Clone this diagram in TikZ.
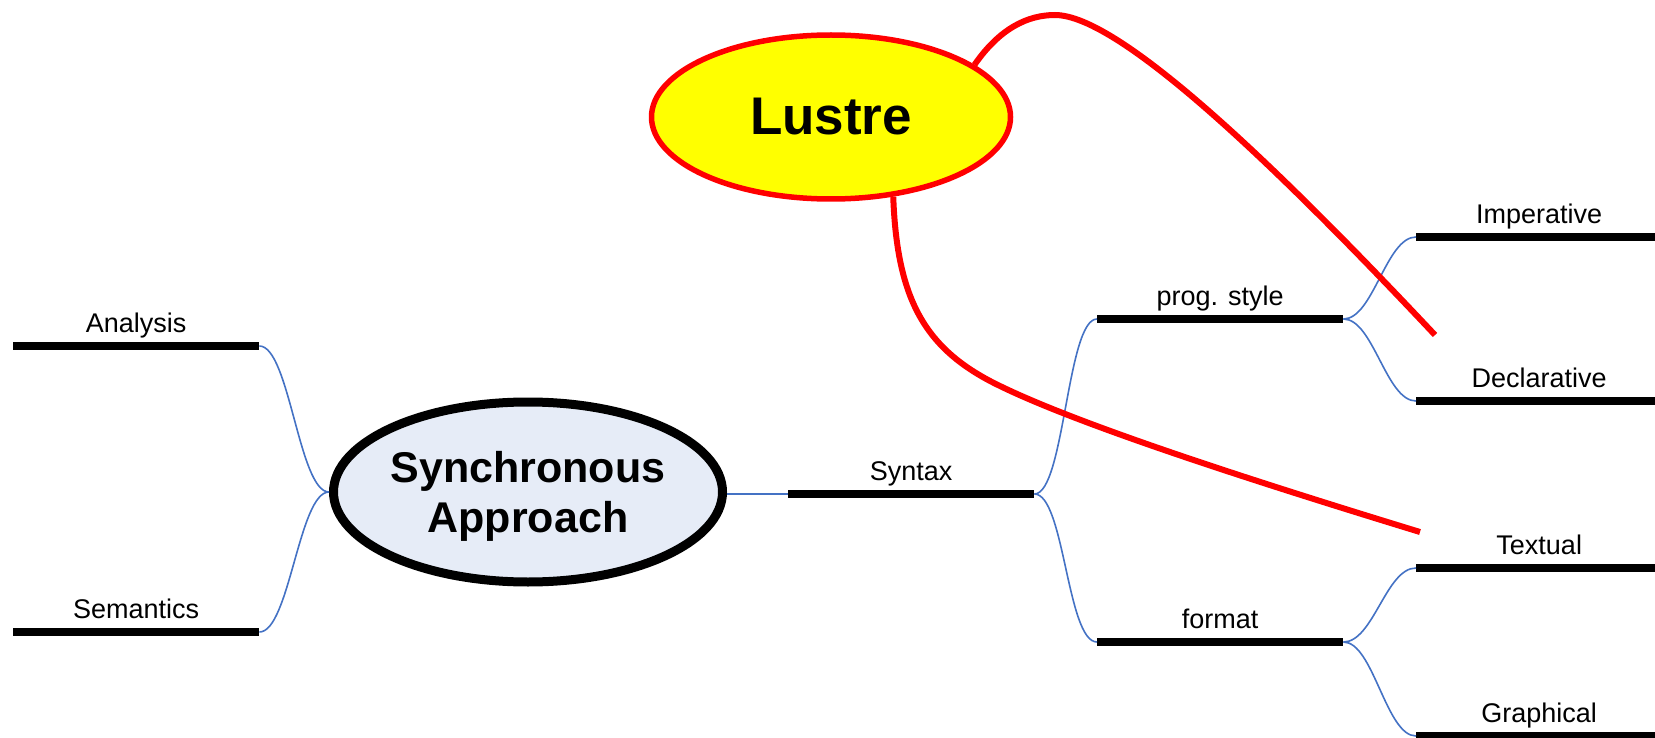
\documentclass[tikz,border=0pt]{standalone}
\usepackage{fontspec}
\setmainfont{Liberation Sans}
\usetikzlibrary{shapes.geometric}
\definecolor{linkblue}{HTML}{4472C4}
\definecolor{syncfill}{HTML}{E6ECF7}
\definecolor{lustrefill}{HTML}{FFFF00}
\definecolor{penred}{HTML}{FF0000}
\begin{document}
\begin{tikzpicture}[x=1pt,y=-1pt,
  topic/.style={rectangle, anchor=south west, minimum width=246pt,
    inner xsep=0pt, inner ysep=7pt, text height=20pt, text depth=6pt,
    font=\fontsize{27}{32}\selectfont},
  bar/.style={draw=black, line width=8pt},
  linkline/.style={draw=linkblue, line width=1.6pt},
  link/.style={linkline,
    to path={.. controls +(30pt,0) and +(-30pt,0) .. (\tikztotarget)}},
  ink/.style={draw=penred, line width=6pt},
]
\useasboundingbox (0,0) rectangle (1655,738);

% central topic and the highlighted one
\node[ellipse, draw=black, line width=9pt, fill=syncfill,
      minimum width=389pt, minimum height=180pt, inner xsep=-2pt, inner ysep=0pt,
      align=center, text depth=0pt,
      font=\bfseries\fontsize{43}{50}\selectfont] (sync) at (528,492) {Synchronous\\Approach};
\node[ellipse, draw=penred, line width=5.5pt, fill=lustrefill,
      minimum width=359pt, minimum height=164pt, inner sep=0pt,
      font=\bfseries\fontsize{53}{60}\selectfont] (lustre) at (831,117) {Lustre};

% branch topics (label over a thick bar)
\node[topic] (an) at (13,346)   {Analysis};
\node[topic] (se) at (13,632)   {Semantics};
\node[topic] (sy) at (788,494)  {Syntax};
\node[topic] (ps) at (1097,319) {prog. style};
\node[topic] (fo) at (1097,642) {format};
\node[topic] (im) at (1416,237) {Imperative};
\node[topic] (de) at (1416,401) {Declarative};
\node[topic] (tx) at (1416,568) {Textual};
\node[topic] (gr) at (1416,736) {Graphical};

\foreach \n in {an,se,sy,ps,fo,im,de,tx,gr}
  \draw[bar] (\n.south west) -- (\n.south east);

% links between topics
\draw[link] (an.south east) to (sync.west);
\draw[link] (se.south east) to (sync.west);
\draw[linkline] (sync.east |- sy.south west) -- (sy.south west);
\draw[link] (sy.south east) to (ps.south west);
\draw[link] (sy.south east) to (fo.south west);
\draw[link] (ps.south east) to (im.south west);
\draw[link] (ps.south east) to (de.south west);
\draw[link] (fo.south east) to (tx.south west);
\draw[link] (fo.south east) to (gr.south west);

% red pen strokes
\coordinate (inkA) at (1435,335);
\coordinate (inkB) at (1420,532);
\draw[ink] (lustre.20) .. controls (1000,28) and (1028,15) .. (1055,15)
  .. controls (1120,15) and (1280,170) .. (inkA);
\draw[ink] (lustre.-52) .. controls (897,300) and (925,350) .. (1000,386)
  .. controls (1080,425) and (1250,480) .. (inkB);
\end{tikzpicture}
\end{document}
